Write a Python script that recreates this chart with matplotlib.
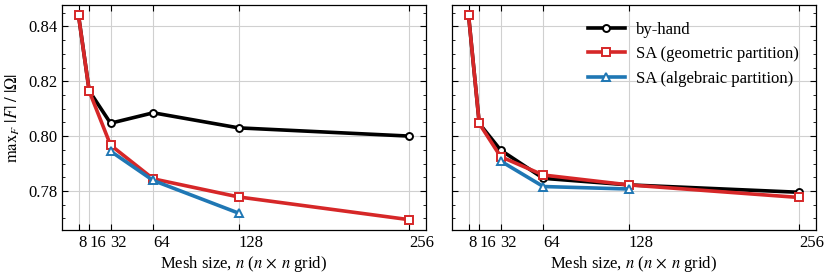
import matplotlib
matplotlib.use("Agg")
import matplotlib.pyplot as plt
from matplotlib.ticker import MultipleLocator, FormatStrFormatter

plt.rcParams['font.family'] = ['Liberation Serif', 'DejaVu Serif']
plt.rcParams['mathtext.fontset'] = 'stix'
plt.rcParams['font.size'] = 12

# mesh sizes
n = [8, 16, 32, 64, 128, 256]
n_alg = [32, 64, 128]

# left panel
hand_L = [0.844, 0.8165, 0.8047, 0.8085, 0.8030, 0.8000]
geom_L = [0.844, 0.8164, 0.7967, 0.7844, 0.7778, 0.7695]
alg_L = [0.7945, 0.7838, 0.7719]

# right panel
hand_R = [0.844, 0.8046, 0.7949, 0.7846, 0.7822, 0.7795]
geom_R = [0.844, 0.8046, 0.7925, 0.7858, 0.7822, 0.7776]
alg_R = [0.7909, 0.7816, 0.7807]

RED = '#d62728'
BLUE = '#1f77b4'

fig, axes = plt.subplots(1, 2, figsize=(8.3, 2.78), dpi=100, sharey=True)
fig.subplots_adjust(left=0.0747, right=0.983, top=0.981, bottom=0.173, wspace=0.072)

panels = [(hand_L, geom_L, alg_L), (hand_R, geom_R, alg_R)]
for ax, (hand, geom, alg) in zip(axes, panels):
    kw = dict(lw=2.6, ms=6, mew=1.4, mfc='white')
    ax.plot(n, hand, '-o', color='black', label='by-hand', ms=5, lw=2.6, mew=1.4, mfc='white')
    ax.plot(n, geom, '-s', color=RED, label='SA (geometric partition)', **kw)
    ax.plot(n_alg, alg, '-^', color=BLUE, label='SA (algebraic partition)', **kw)

    ax.set_xticks(n)
    ax.set_xticklabels([str(v) for v in n])
    for lab in ax.get_xticklabels():
        lab.set_horizontalalignment('left')
    ax.yaxis.set_major_locator(MultipleLocator(0.02))
    ax.yaxis.set_minor_locator(MultipleLocator(0.005))
    ax.tick_params(which='both', direction='in', top=True, right=True)
    ax.tick_params(which='major', length=4.5, width=0.8)
    ax.tick_params(which='minor', length=2.5, width=0.6)
    ax.tick_params(axis='x', which='minor', bottom=False, top=False)
    ax.grid(True, color='#d0d0d0', lw=0.8)
    ax.set_axisbelow(True)
    ax.set_xlabel(r'Mesh size, $n$ ($n \,\times\, n$ grid)', labelpad=2)
    for sp in ax.spines.values():
        sp.set_linewidth(0.9)

axes[0].set_ylabel(r'$\mathrm{max}_F\ |F|\ /\ |\Omega|$')
axes[0].yaxis.set_major_formatter(FormatStrFormatter('%.2f'))
axes[1].legend(loc='upper right', frameon=False, handlelength=2.2,
               borderaxespad=0.6, labelspacing=0.5, handletextpad=0.7)

fig.savefig('out.png', dpi=100)
